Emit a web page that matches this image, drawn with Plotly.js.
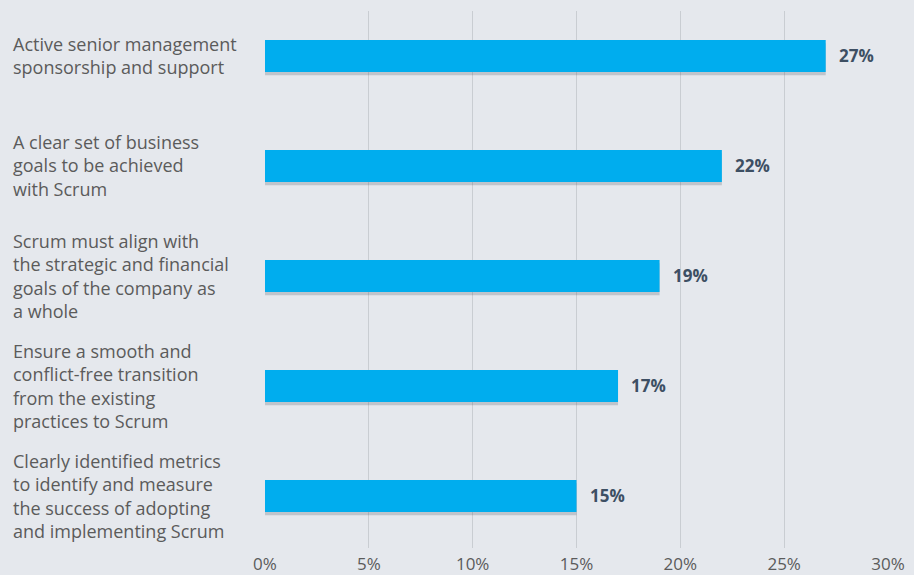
<!DOCTYPE html>
<html><head><meta charset="utf-8">
<script src="https://cdn.plot.ly/plotly-3.0.1.min.js"></script>
<style>html,body{margin:0;padding:0;background:#e5e8ed;}#chart{width:914px;height:575px;}</style>
</head><body><div id="chart"></div>
<script>
const categories = [
  "Active senior management<br>sponsorship and support",
  "A clear set of business<br>goals to be achieved<br>with Scrum",
  "Scrum must align with<br>the strategic and financial<br>goals of the company as<br>a whole",
  "Ensure a smooth and<br>conflict-free transition<br>from the existing<br>practices to Scrum",
  "Clearly identified metrics<br>to identify and measure<br>the success of adopting<br>and implementing Scrum"
];
const values = [27, 22, 19, 17, 15];
const tickVals = [0, 5, 10, 15, 20, 25, 30];
const tickText = ["0%", "5%", "10%", "15%", "20%", "25%", "30%"];

const idx = categories.map((c, i) => i);
const shadow = {
  type: 'bar', orientation: 'h', x: values, y: idx,
  width: 0.29, offset: -0.145 + 0.03,
  marker: {color: 'rgba(60,70,80,0.22)'}, hoverinfo: 'skip', showlegend: false
};
const bars = {
  type: 'bar', orientation: 'h', x: values, y: idx,
  width: 0.29, offset: -0.145,
  marker: {color: '#00adee'}, hoverinfo: 'skip', showlegend: false
};
const annotations = [];
categories.forEach((c, i) => {
  annotations.push({
    xref: 'paper', yref: 'y', x: -0.408, y: i, xanchor: 'left', yanchor: 'middle',
    align: 'left', text: c, showarrow: false,
    font: {family: '"Open Sans", sans-serif', size: 18, color: '#5b5b5b'}
  });
  annotations.push({
    xref: 'x', yref: 'y', x: values[i], y: i, xanchor: 'left', yanchor: 'middle',
    xshift: 11, text: values[i] + '%', showarrow: false,
    font: {family: '"Open Sans", sans-serif', size: 17, color: '#3d4f63', weight: 'bold'}
  });
});
const layout = {
  width: 914, height: 575,
  margin: {l: 265, r: 26, t: 11, b: 27},
  paper_bgcolor: '#e5e8ed', plot_bgcolor: '#e5e8ed',
  barmode: 'overlay',
  xaxis: {range: [0, 30], tickvals: tickVals, ticktext: tickText, showgrid: true,
    gridcolor: '#c9cdd2', gridwidth: 1, zeroline: false, showline: false,
    ticks: '', ticklabelstandoff: 4,
    tickfont: {family: '"Open Sans", sans-serif', size: 17, color: '#5b5b5b'}},
  yaxis: {range: [4.473, -0.409], showticklabels: false, showgrid: false,
    zeroline: false, showline: false, ticks: ''},
  annotations: annotations
};
Plotly.newPlot('chart', [shadow, bars], layout, {displayModeBar: false, staticPlot: true});
</script></body></html>
